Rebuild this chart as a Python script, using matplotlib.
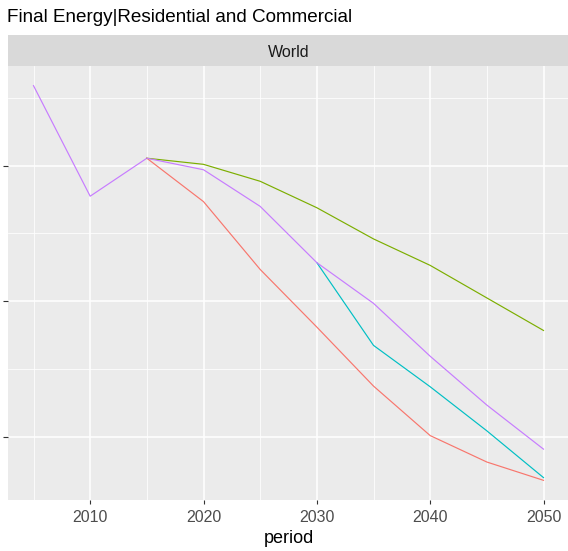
import matplotlib
matplotlib.use("Agg")
import matplotlib.pyplot as plt
from matplotlib.ticker import MultipleLocator

plt.rcParams['font.family'] = ['Liberation Sans', 'DejaVu Sans']

years_hist = [2005, 2010, 2015]
hist_vals = [111.8, 95.5, 101.1]

years_scen = [2015, 2020, 2025, 2030, 2035, 2040, 2045, 2050]
red_vals = [101.1, 94.7, 84.7, 76.2, 67.5, 60.2, 56.3, 53.6]
green_vals = [101.1, 100.2, 97.7, 93.8, 89.2, 85.3, 80.5, 75.7]
purple_vals = [101.1, 99.4, 94.0, 85.7, 79.7, 71.9, 64.7, 58.2]
years_cyan = [2030, 2035, 2040, 2045, 2050]
cyan_vals = [85.7, 73.5, 67.4, 60.9, 54.0]

colors = {"red": "#F8766D", "green": "#7CAE00", "cyan": "#00BFC4", "purple": "#C77CFF"}

W, H = 568, 551
fig = plt.figure(figsize=(W / 100, H / 100), dpi=100)

pl, pr, pt, pb = 8, 569, 66, 500
ax = fig.add_axes([pl / W, 1 - pb / H, (pr - pl) / W, (pb - pt) / H])
ax.set_facecolor("#EBEBEB")
for s in ax.spines.values():
    s.set_visible(False)

lw = 0.85
ax.plot(years_hist, hist_vals, color=colors["purple"], lw=lw)
ax.plot(years_scen, red_vals, color=colors["red"], lw=lw)
ax.plot(years_scen, green_vals, color=colors["green"], lw=lw)
ax.plot(years_cyan, cyan_vals, color=colors["cyan"], lw=lw)
ax.plot(years_scen, purple_vals, color=colors["purple"], lw=lw)

ax.set_xlim(2002.75, 2052.25)
ax.set_ylim(50.7, 114.7)
ax.xaxis.set_major_locator(MultipleLocator(10))
ax.xaxis.set_minor_locator(MultipleLocator(5))
ax.yaxis.set_major_locator(MultipleLocator(20))
ax.yaxis.set_minor_locator(MultipleLocator(10))
ax.grid(which="major", color="white", lw=1.1)
ax.grid(which="minor", color="white", lw=0.55)
ax.set_axisbelow(True)
ax.tick_params(axis="x", which="major", length=3, width=0.8, color="#333333",
               labelsize=11.5, labelcolor="#4D4D4D", pad=4)
ax.tick_params(axis="y", which="major", length=3.5, width=0.8, color="#333333",
               labelleft=False)
ax.tick_params(which="minor", length=0)
ax.set_xlabel("period", fontsize=13, color="black", labelpad=4)

# strip
st, sb = 35, 66
sax = fig.add_axes([pl / W, 1 - sb / H, (pr - pl) / W, (sb - st) / H])
sax.set_facecolor("#D9D9D9")
sax.set_xticks([]); sax.set_yticks([])
for s in sax.spines.values():
    s.set_visible(False)
sax.text(0.5, 0.45, "World", ha="center", va="center", fontsize=11.5, color="#1A1A1A",
         transform=sax.transAxes)

fig.text(7 / W, 1 - 18 / H, "Final Energy|Residential and Commercial", ha="left", va="center",
         fontsize=13.6, color="black")

fig.savefig("out.png", dpi=100)
